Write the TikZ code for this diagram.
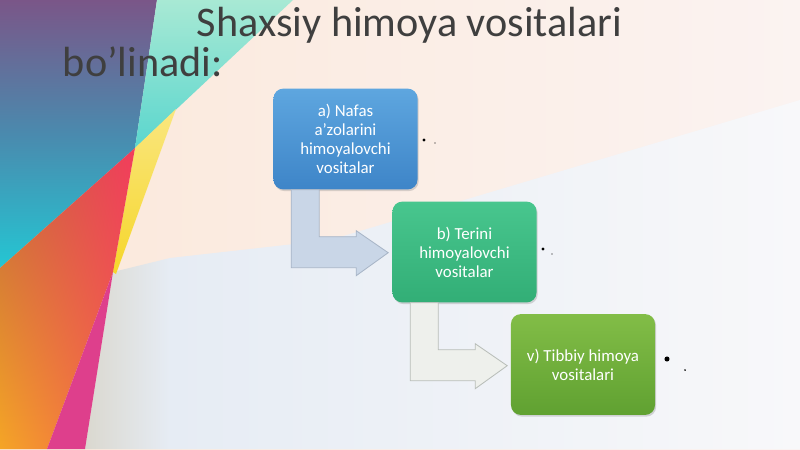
\documentclass[tikz,border=0pt]{standalone}
\usepackage{fontspec}
\setmainfont{Carlito}
\usetikzlibrary{calc,shadows,shadings}

\definecolor{bgpeach}{HTML}{FBE8DA}
\definecolor{bgpink}{HTML}{FBF3F1}
\definecolor{bgblue}{HTML}{E6ECF4}
\definecolor{bgwhite}{HTML}{F8F8FA}
\definecolor{wedgetop}{HTML}{7A5688}
\definecolor{wedgemid}{HTML}{4A8AAE}
\definecolor{wedgeteal}{HTML}{24C6D3}
\definecolor{mintlight}{HTML}{A8E9D4}
\definecolor{mintdark}{HTML}{5AD6CE}
\definecolor{sunyellow}{HTML}{F6D62A}
\definecolor{hotred}{HTML}{F23D5C}
\definecolor{rustred}{HTML}{C2623F}
\definecolor{deeporange}{HTML}{F5A526}
\definecolor{coral}{HTML}{F05A50}
\definecolor{magentapink}{HTML}{DE3F8C}
\definecolor{haze}{HTML}{DAD8CF}
\definecolor{titlegrey}{HTML}{3F3F3F}
\definecolor{blueboxtop}{HTML}{5EA6DF}
\definecolor{blueboxbot}{HTML}{3E85C8}
\definecolor{greenboxtop}{HTML}{48C68E}
\definecolor{greenboxbot}{HTML}{32AE76}
\definecolor{limeboxtop}{HTML}{82BD47}
\definecolor{limeboxbot}{HTML}{60A131}
\definecolor{arrowblue}{HTML}{C9D6E7}
\definecolor{arrowblueedge}{HTML}{A8B5C7}
\definecolor{arrowpale}{HTML}{EEF0EC}
\definecolor{arrowpaleedge}{HTML}{B9BEB9}

\begin{document}
\begin{tikzpicture}[x=0.025cm, y=-0.025cm,
	title/.style={anchor=base west, text=titlegrey, font=\fontsize{30}{36}\selectfont},
	stepbox/.style={rounded corners=7pt, minimum width=3.6cm, minimum height=2.52cm,
		align=center, text=white, font=\fontsize{12}{13.5}\selectfont,
		drop shadow={opacity=0.3, shadow xshift=0.8pt, shadow yshift=-1.2pt}},
	bentarrow/.style={line width=0.6pt, line join=miter}]

	\useasboundingbox (0,0) rectangle (800,449);

	\shade[left color=bgpeach, right color=bgpink] (0,0) rectangle (800,449);
	\shade[left color=bgblue, right color=bgwhite] (170,258) -- (330,240) -- (800,100) -- (800,449) -- (170,449) -- cycle;
	\shade[left color=haze, right color=bgblue] (113,272) -- (170,258) -- (170,449) -- (85,449) -- cycle;

	\shade[top color=wedgetop, bottom color=wedgeteal, middle color=wedgemid] (0,0) -- (157,0) -- (135,148) -- (0,268) -- cycle;
	\shade[top color=mintlight, bottom color=mintdark] (157,0) -- (293,0) -- (135,148) -- cycle;
	\shade[top color=sunyellow!60, bottom color=sunyellow] (135,148) -- (176,109) -- (116,274) -- (113,272) -- cycle;
	\shade[upper left=rustred, upper right=hotred, lower left=deeporange, lower right=coral] (0,268) -- (135,148) -- (113,272) -- (47,449) -- (0,449) -- cycle;
	\fill[magentapink] (113,272) -- (85,449) -- (47,449) -- cycle;

	\node[title] (title1) at (192,36) {Shaxsiy himoya vositalari};
	\node[title] (title2) at (58,76) {bo’linadi:};

	\node[stepbox, top color=blueboxtop, bottom color=blueboxbot] (boxA) at (345.5,139) {a) Nafas\\a'zolarini\\himoyalovchi\\vositalar};
	\node[stepbox, top color=greenboxtop, bottom color=greenboxbot] (boxB) at (464.5,252) {b) Terini\\himoyalovchi\\vositalar};
	\node[stepbox, top color=limeboxtop, bottom color=limeboxbot] (boxC) at (583,364.5) {v) Tibbiy himoya\\vositalari};

	\draw[bentarrow, fill=arrowblue, draw=arrowblueedge] ($(boxA.south west)+(18,0)$) -- ++(28,0) -- ++(0,47) -- ++(37,0) -- ++(0,-6) -- ++(32,22) -- ++(-32,23) -- ++(0,-8) -- ++(-65,0) -- cycle;
	\draw[bentarrow, fill=arrowpale, draw=arrowpaleedge] ($(boxB.south west)+(18,0)$) -- ++(28,0) -- ++(0,47) -- ++(37,0) -- ++(0,-6) -- ++(32,22) -- ++(-32,23) -- ++(0,-8) -- ++(-65,0) -- cycle;

	\fill (424,140) circle (1.1pt);
	\fill (435,143) circle (0.5pt);
	\fill (543,249) circle (1.1pt);
	\fill (552,254) circle (0.5pt);
	\fill (667,359) circle (1.8pt);
	\fill (685,370) circle (0.7pt);

\end{tikzpicture}
\end{document}
